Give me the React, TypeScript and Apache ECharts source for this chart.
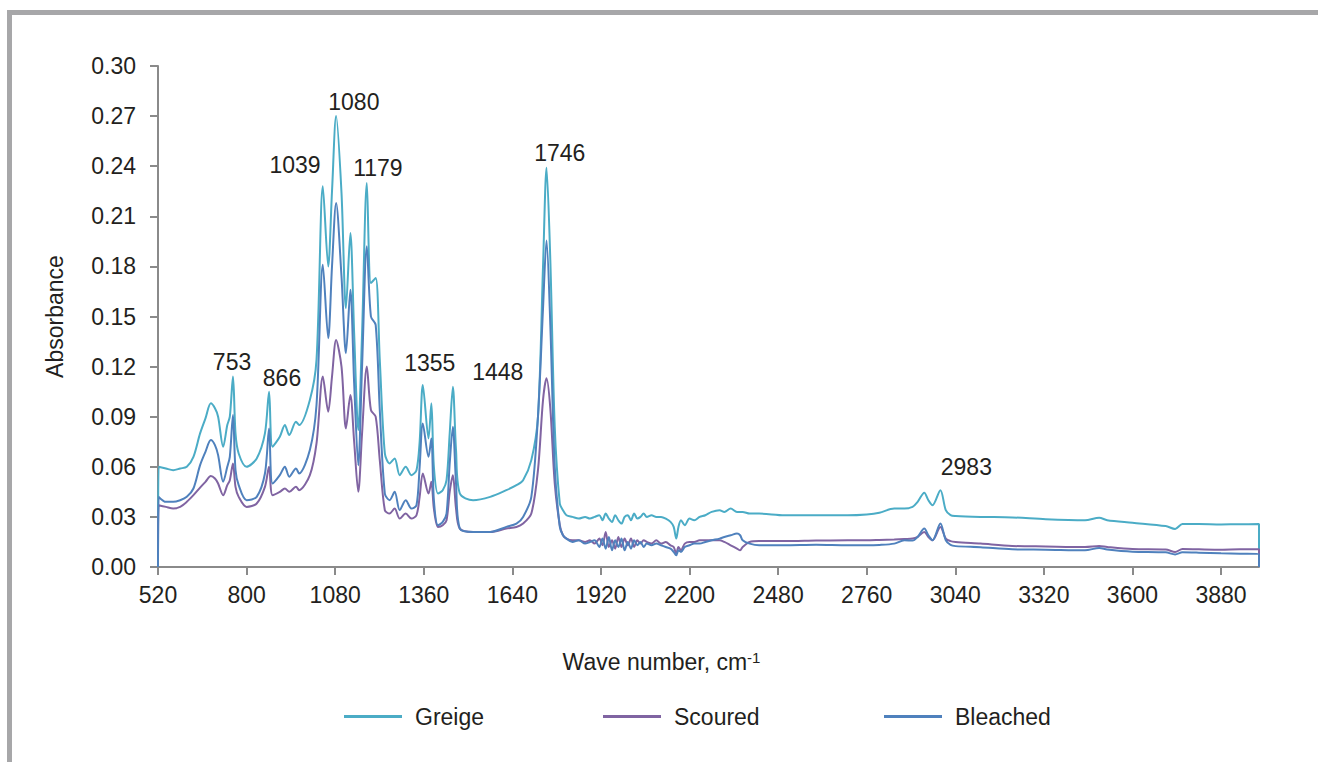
import React, { useEffect, useRef } from "react";
import * as echarts from "echarts";

// Wave numbers (cm-1) shared by the three spectra
const waveNumbers = [
  520, 522, 545, 568, 590, 611, 632, 653, 670, 687,
  700, 710, 726, 739, 747, 757, 765, 775, 800, 832,
  858, 871, 882, 905, 921, 935, 956, 966, 1000, 1021,
  1041, 1058, 1070, 1083, 1100, 1114, 1128, 1140, 1153, 1165,
  1180, 1193, 1208, 1221, 1237, 1252, 1268, 1284, 1303, 1321,
  1337, 1347, 1357, 1375, 1384, 1392, 1405, 1420, 1432, 1442,
  1452, 1462, 1474, 1516, 1570, 1621, 1653, 1674, 1700, 1721,
  1737, 1748, 1760, 1774, 1790, 1800, 1811,
  1830, 1850, 1870, 1885, 1900, 1915, 1925, 1935, 1945, 1955,
  1965, 1975, 1985, 1995, 2005, 2015, 2025, 2035, 2045, 2055,
  2065, 2080, 2095, 2110, 2125, 2140, 2150, 2158, 2165, 2173,
  2185, 2200, 2215, 2232, 2250, 2270, 2295, 2310, 2330, 2350,
  2360, 2368, 2390, 2420,
  2500, 2600, 2700, 2760, 2800, 2847, 2879, 2905, 2921, 2942,
  2955, 2968, 2993, 3010, 3025, 3041, 3120, 3220, 3326, 3450,
  3495, 3520, 3600, 3705, 3735, 3758, 3810, 3880, 3940, 4000, 4000,
];

const greige = [
  0, 0.060, 0.059, 0.058, 0.059, 0.060, 0.066, 0.080, 0.089, 0.098,
  0.095, 0.090, 0.072, 0.085, 0.090, 0.114, 0.080, 0.068, 0.060, 0.065,
  0.080, 0.105, 0.072, 0.078, 0.085, 0.079, 0.087, 0.085, 0.100, 0.124,
  0.228, 0.180, 0.225, 0.270, 0.224, 0.155, 0.200, 0.140, 0.082, 0.140,
  0.230, 0.170, 0.173, 0.124, 0.068, 0.062, 0.065, 0.055, 0.060, 0.055,
  0.058, 0.075, 0.109, 0.077, 0.098, 0.060, 0.044, 0.046, 0.052, 0.080,
  0.108, 0.070, 0.044, 0.040, 0.042, 0.046, 0.049, 0.052, 0.064, 0.090,
  0.180, 0.239, 0.184, 0.084, 0.038, 0.034, 0.031,
  0.030, 0.029, 0.030, 0.029, 0.030, 0.031, 0.028, 0.032, 0.029, 0.027,
  0.031, 0.028, 0.026, 0.030, 0.031, 0.028, 0.032, 0.029, 0.030, 0.032,
  0.030, 0.031, 0.030, 0.030, 0.029, 0.027, 0.024, 0.017, 0.024, 0.028,
  0.025, 0.029, 0.028, 0.030, 0.031, 0.033, 0.034, 0.033, 0.035, 0.033,
  0.033, 0.033, 0.032, 0.032,
  0.031, 0.031, 0.031, 0.0315, 0.0325, 0.035, 0.035, 0.036, 0.039, 0.0445,
  0.040, 0.037, 0.046, 0.034, 0.031, 0.0305, 0.030, 0.0297, 0.0286, 0.028,
  0.0295, 0.028, 0.0265, 0.0245, 0.0228, 0.0257, 0.0257, 0.0255, 0.0256, 0.0257, 0,
];

const scoured = [
  0, 0.037, 0.036, 0.035, 0.036, 0.039, 0.043, 0.0475, 0.051, 0.0545,
  0.053, 0.050, 0.043, 0.049, 0.052, 0.062, 0.048, 0.042, 0.036, 0.038,
  0.048, 0.060, 0.043, 0.045, 0.047, 0.045, 0.048, 0.046, 0.055, 0.074,
  0.114, 0.093, 0.114, 0.136, 0.120, 0.083, 0.103, 0.075, 0.045, 0.080,
  0.120, 0.094, 0.090, 0.064, 0.034, 0.032, 0.035, 0.029, 0.032, 0.029,
  0.031, 0.042, 0.056, 0.044, 0.051, 0.035, 0.024, 0.025, 0.028, 0.045,
  0.055, 0.035, 0.023, 0.021, 0.021, 0.023, 0.024, 0.026, 0.032, 0.058,
  0.100, 0.113, 0.095, 0.050, 0.025, 0.019, 0.017,
  0.016, 0.016, 0.015, 0.016, 0.014, 0.017, 0.013, 0.021, 0.012, 0.016,
  0.011, 0.018, 0.012, 0.017, 0.013, 0.017, 0.012, 0.016, 0.014, 0.016,
  0.015, 0.014, 0.016, 0.014, 0.015, 0.013, 0.012, 0.008, 0.012, 0.010,
  0.014, 0.015, 0.015, 0.016, 0.016, 0.016, 0.016, 0.015, 0.013, 0.011,
  0.010, 0.012, 0.015, 0.0155,
  0.0155, 0.0158, 0.016, 0.016, 0.0162, 0.0165, 0.0168, 0.017, 0.018, 0.021,
  0.018, 0.016, 0.024, 0.017, 0.0155, 0.015, 0.014, 0.0126, 0.0123, 0.012,
  0.0126, 0.012, 0.0108, 0.0105, 0.009, 0.0108, 0.0106, 0.0104, 0.0106, 0.0106, 0,
];

const bleached = [
  0, 0.042, 0.039, 0.039, 0.040, 0.042, 0.047, 0.061, 0.069, 0.076,
  0.073, 0.067, 0.051, 0.060, 0.066, 0.091, 0.058, 0.049, 0.040, 0.042,
  0.056, 0.083, 0.050, 0.055, 0.060, 0.054, 0.059, 0.056, 0.070, 0.097,
  0.181, 0.137, 0.180, 0.218, 0.174, 0.128, 0.166, 0.110, 0.061, 0.120,
  0.192, 0.150, 0.145, 0.094, 0.044, 0.040, 0.045, 0.034, 0.040, 0.035,
  0.037, 0.060, 0.086, 0.066, 0.077, 0.040, 0.025, 0.027, 0.032, 0.062,
  0.084, 0.050, 0.023, 0.021, 0.021, 0.024, 0.026, 0.030, 0.042, 0.090,
  0.155, 0.1955, 0.145, 0.060, 0.024, 0.019, 0.017,
  0.015, 0.016, 0.014, 0.015, 0.016, 0.012, 0.017, 0.011, 0.018, 0.010,
  0.016, 0.012, 0.017, 0.010, 0.015, 0.011, 0.016, 0.013, 0.015, 0.012,
  0.014, 0.013, 0.014, 0.013, 0.012, 0.011, 0.009, 0.007, 0.010, 0.009,
  0.012, 0.013, 0.014, 0.014, 0.015, 0.016, 0.017, 0.018, 0.019, 0.020,
  0.019, 0.016, 0.014, 0.013,
  0.013, 0.0133, 0.013, 0.013, 0.0132, 0.014, 0.016, 0.0158, 0.018, 0.023,
  0.019, 0.016, 0.026, 0.016, 0.0132, 0.0125, 0.0118, 0.0106, 0.0104, 0.010,
  0.0114, 0.0105, 0.0092, 0.0088, 0.0075, 0.0088, 0.0086, 0.0082, 0.008, 0.0078, 0,
];

const seriesNames = ["Greige", "Scoured", "Bleached"];
const seriesColors = ["#4bacc6", "#8064a2", "#4f81bd"];

const xTicks = [520, 800, 1080, 1360, 1640, 1920, 2200, 2480, 2760, 3040, 3320, 3600, 3880];

// Peak annotations (text, anchored in data coordinates)
const peakLabels = ["753", "866", "1039", "1080", "1179", "1355", "1448", "1746", "2983"];
const peakLabelX = [754, 912, 953, 1139, 1215, 1379, 1594, 1790, 3075];
const peakLabelY = [0.1228, 0.1132, 0.2407, 0.2786, 0.2389, 0.1222, 0.1168, 0.2479, 0.0601];

const FONT = "'Liberation Sans', Arial, Helvetica, sans-serif";
const TEXT = "#231f20";
const FS = 23;

export default function App() {
  const ref = useRef<HTMLDivElement>(null);

  useEffect(() => {
    if (!ref.current) return;
    const chart = echarts.init(ref.current, null, { renderer: "svg" });
    const spectra = [greige, scoured, bleached];

    const lineSeries = seriesNames.map((name, k) => ({
      name,
      type: "line",
      data: waveNumbers.map((w, i) => [w, spectra[k][i]]),
      showSymbol: false,
      symbol: "none",
      smooth: 0.3,
      lineStyle: { color: seriesColors[k], width: 2 },
      itemStyle: { color: seriesColors[k] },
      z: 2 + k,
    }));

    const legendLefts = [339, 598, 879];

    chart.setOption({
      animation: false,
      textStyle: { fontFamily: FONT },
      grid: { left: 158, right: 59, top: 66, bottom: 195, containLabel: false },
      graphic: [
        {
          type: "rect",
          shape: { x: 9.5, y: 12.5, width: 1500, height: 1000 },
          style: { fill: "none", stroke: "#a7a7a9", lineWidth: 5 },
          silent: true,
        },
      ],
      legend: seriesNames.map((n, k) => ({
        data: [n],
        left: legendLefts[k],
        top: 700,
        icon: "rect",
        itemWidth: 58,
        itemHeight: 3,
        selectedMode: false,
        textStyle: { fontSize: FS, color: TEXT, fontFamily: FONT, padding: [0, 0, 0, 8] },
      })),
      xAxis: {
        type: "value",
        min: 520,
        max: 4000,
        interval: 280,
        name: "Wave number, cm{sup|-1}",
        nameLocation: "middle",
        nameGap: 83,
        nameTextStyle: {
          fontSize: FS,
          color: TEXT,
          fontFamily: FONT,
          padding: [0, 94, 0, 0],
          rich: {
            sup: { fontSize: 15, color: TEXT, fontFamily: FONT, verticalAlign: "top", padding: [0, 0, 8, 0] },
          },
        },
        axisLine: { show: true, lineStyle: { color: "#8a8a8a", width: 2 } },
        axisTick: { show: true, length: 8, customValues: xTicks, lineStyle: { color: "#8a8a8a", width: 2 } },
        axisLabel: {
          fontSize: FS,
          color: TEXT,
          fontFamily: FONT,
          margin: 16,
          customValues: xTicks,
          formatter: (v: number) => String(v),
        },
        splitLine: { show: false },
      },
      yAxis: {
        type: "value",
        min: 0,
        max: 0.3,
        interval: 0.03,
        name: "Absorbance",
        nameLocation: "middle",
        nameGap: 92,
        nameRotate: 90,
        nameTextStyle: { fontSize: FS, color: TEXT, fontFamily: FONT },
        axisLine: { show: true, lineStyle: { color: "#8a8a8a", width: 2 } },
        axisTick: { show: true, length: 8, lineStyle: { color: "#8a8a8a", width: 2 } },
        axisLabel: {
          fontSize: FS,
          color: TEXT,
          fontFamily: FONT,
          margin: 22,
          formatter: (v: number) => v.toFixed(2),
        },
        splitLine: { show: false },
      },
      series: [
        ...lineSeries,
        {
          name: "peaks",
          type: "scatter",
          symbolSize: 0,
          silent: true,
          z: 10,
          itemStyle: { opacity: 1 },
          data: peakLabels.map((t, i) => ({ value: [peakLabelX[i], peakLabelY[i]], name: t })),
          label: {
            show: true,
            position: "inside",
            formatter: "{b}",
            fontSize: FS,
            color: TEXT,
            opacity: 1,
            textBorderWidth: 0,
            fontFamily: FONT,
          },
        },
      ],
    });

    return () => chart.dispose();
  }, []);

  return (
    <div
      ref={ref}
      style={{ position: "absolute", left: 0, top: 0, width: 1318, height: 762, background: "#fff" }}
    />
  );
}
